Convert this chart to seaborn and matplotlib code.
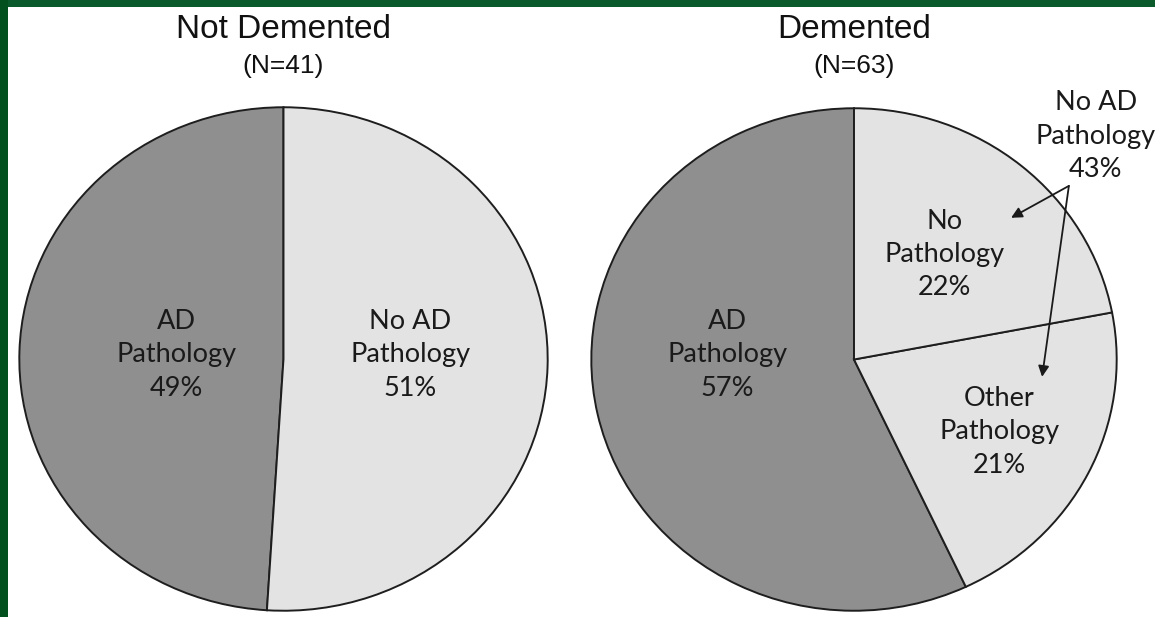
import matplotlib
matplotlib.use("Agg")
import matplotlib.pyplot as plt
from matplotlib.patches import Rectangle
import seaborn as sns

# Share of cases in each pathology group (percent)
nd_labels = ["AD\nPathology", "No AD\nPathology"]
nd_values = [49, 51]
nd_n = 41

d_labels = ["AD\nPathology", "Other\nPathology", "No\nPathology"]
d_values = [57, 21, 22]
d_n = 63

DARK = "#8f8f8f"
LIGHT = "#e3e3e3"
EDGE = "#1e1e1e"

sns.set_theme(style="white")
plt.rcParams["font.family"] = ["Lato", "DejaVu Sans"]

W, H = 1155, 617
fig = plt.figure(figsize=(W / 100, H / 100), dpi=100)
fig.patch.set_facecolor("white")

# dark green frame along the top and left edges
fig.patches.append(Rectangle((0, 1 - 7 / H), 1, 7 / H, transform=fig.transFigure,
                             facecolor="#0a5a2b", edgecolor="none", zorder=0))
fig.patches.append(Rectangle((0, 0), 8 / W, 1, transform=fig.transFigure,
                             facecolor="#03501f", edgecolor="none", zorder=0))


def pie_axes(cx, cy, rx, ry):
    ax = fig.add_axes([(cx - rx) / W, 1 - (cy + ry) / H, 2 * rx / W, 2 * ry / H])
    ax.set_axis_off()
    return ax


def draw_pie(ax, values, colors):
    ax.pie(values, colors=colors, startangle=90, counterclock=True, radius=1,
           wedgeprops=dict(edgecolor=EDGE, linewidth=1.4))
    ax.set_aspect("auto")
    ax.set_xlim(-1.005, 1.005)
    ax.set_ylim(-1.005, 1.005)


label_kw = dict(ha="center", va="center", fontsize=19.5, color="#1a1a1a",
                linespacing=1.42)

# ---- Not demented ----
ax1 = pie_axes(283.5, 359, 265.5, 253)
draw_pie(ax1, nd_values, [DARK, LIGHT])
ax1.text(-0.405, 0.016, f"{nd_labels[0]}\n{nd_values[0]}%", **label_kw)
ax1.text(0.48, 0.016, f"{nd_labels[1]}\n{nd_values[1]}%", **label_kw)

# ---- Demented ----
ax2 = pie_axes(854, 359.5, 264, 252.5)
draw_pie(ax2, d_values, [DARK, LIGHT, LIGHT])
ax2.text(-0.481, 0.018, f"{d_labels[0]}\n{d_values[0]}%", **label_kw)
ax2.text(0.553, -0.287, f"{d_labels[1]}\n{d_values[1]}%", **label_kw)
ax2.text(0.345, 0.418, f"{d_labels[2]}\n{d_values[2]}%", **label_kw)

no_ad_total = d_values[1] + d_values[2]
ax2.text(0.92, 0.889, f"No AD\nPathology\n{no_ad_total}%", clip_on=False, **label_kw)

apex = (0.818, 0.691)
for target in [(0.598, 0.564), (0.716, -0.069)]:
    ax2.annotate("", xy=target, xytext=apex, annotation_clip=False,
                 arrowprops=dict(arrowstyle="-|>", color="#1a1a1a", lw=1.3,
                                 shrinkA=0, shrinkB=0, mutation_scale=16))

# titles
title_kw = dict(ha="center", va="center", family=["Liberation Sans", "DejaVu Sans"],
                color="#111111")
fig.text(283.5 / W, 1 - 30 / H, "Not Demented", fontsize=24, **title_kw)
fig.text(283.5 / W, 1 - 66 / H, f"(N={nd_n})", fontsize=19, **title_kw)
fig.text(854 / W, 1 - 30 / H, "Demented", fontsize=24, **title_kw)
fig.text(854 / W, 1 - 66 / H, f"(N={d_n})", fontsize=19, **title_kw)

fig.savefig("out.png", dpi=100, facecolor="white")
